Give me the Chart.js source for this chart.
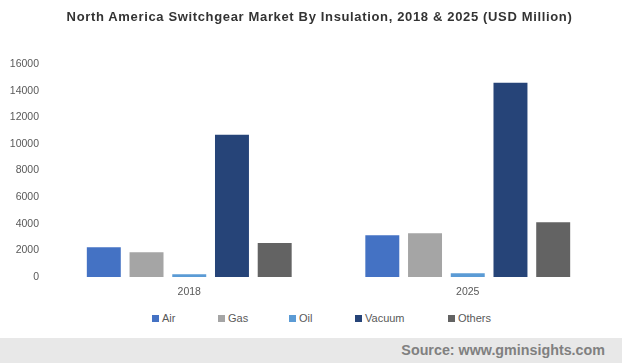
<!DOCTYPE html>
<html>
<head>
<meta charset="utf-8">
<script src="https://cdn.jsdelivr.net/npm/chart.js@4/dist/chart.umd.min.js"></script>
<style>
  body { margin: 0; background: #fff; font-family: "Liberation Sans", Arial, sans-serif; }
  #wrap { position: relative; width: 622px; height: 363px; overflow: hidden; }
  #title { position: absolute; left: 17px; top: 9px; width: 605px; line-height: 15px; text-align: center;
           font-size: 13px; font-weight: bold; color: #333333; letter-spacing: 0.65px; white-space: nowrap; }
  #chartBox { position: absolute; left: 0; top: 0; width: 622px; height: 300px; }
  #legend { position: absolute; left: 0; top: 312px; width: 622px; height: 16px; font-size: 11px; color: #595959; }
  #legend span.item { position: absolute; top: 0; white-space: nowrap; }
  #legend i { display: inline-block; width: 7px; height: 7px; margin-right: 3px; vertical-align: 0px; }
  #source { position: absolute; left: 0; top: 338px; width: 622px; height: 25px; background: #e8e8e8; }
  #source span { position: absolute; right: 17px; top: 4px; font-size: 14.3px; font-weight: bold; color: #808080; }
</style>
</head>
<body>
<div id="wrap">
  <div id="chartBox"><canvas id="chart"></canvas></div>
  <div id="title">North America Switchgear Market By Insulation, 2018 &amp; 2025 (USD Million)</div>
  <div id="legend"></div>
  <div id="source"><span>Source: www.gminsights.com</span></div>
</div>
<script>
// Data
const years = ['2018', '2025'];
const insulationTypes = ['Air', 'Gas', 'Oil', 'Vacuum', 'Others'];
const air = [2240, 3140];
const gas = [1860, 3290];
const oil = [200, 280];
const vacuum = [10680, 14600];
const others = [2560, 4120];
const yTicks = [0, 2000, 4000, 6000, 8000, 10000, 12000, 14000, 16000];

const colors = ['#4472c4', '#a5a5a5', '#5b9bd5', '#264478', '#636363'];
const seriesValues = [air, gas, oil, vacuum, others];

// Legend positions roughly match the original spacing
const legendX = [152, 218, 289, 355, 448];

document.addEventListener('DOMContentLoaded', function() {
    initChart();
    buildLegend();
});

function initChart() {
    const ctx = document.getElementById('chart').getContext('2d');
    const tickFont = { family: '"Liberation Sans", Arial, sans-serif', size: 10.5 };
    window.insulationChart = new Chart(ctx, {
        type: 'bar',
        data: {
            labels: years,
            datasets: insulationTypes.map((name, i) => ({
                label: name,
                data: seriesValues[i],
                backgroundColor: colors[i],
                borderWidth: 0,
                categoryPercentage: 0.767,
                barPercentage: 0.795
            }))
        },
        options: {
            responsive: true,
            maintainAspectRatio: false,
            animation: false,
            layout: { padding: { left: 0, right: 15, top: 64, bottom: 2 } },
            plugins: {
                legend: { display: false },
                tooltip: { enabled: false },
                title: { display: false }
            },
            scales: {
                x: {
                    grid: { display: false, drawTicks: false },
                    border: { display: false },
                    afterFit: axis => { axis.height = 21; },
                    ticks: { color: '#595959', padding: 9, font: tickFont }
                },
                y: {
                    min: 0,
                    max: 16000,
                    afterBuildTicks: axis => { axis.ticks = yTicks.map(v => ({ value: v })); },
                    afterFit: axis => { axis.width = 50; },
                    grid: { display: false, drawTicks: false },
                    border: { display: false },
                    ticks: {
                        color: '#595959',
                        padding: 11,
                        font: tickFont,
                        callback: value => String(value)
                    }
                }
            }
        }
    });
}

function buildLegend() {
    const legend = document.getElementById('legend');
    insulationTypes.forEach((name, i) => {
        const item = document.createElement('span');
        item.className = 'item';
        item.style.left = legendX[i] + 'px';
        item.innerHTML = `<i style="background:${colors[i]}"></i>${name}`;
        legend.appendChild(item);
    });
}
</script>
</body>
</html>
